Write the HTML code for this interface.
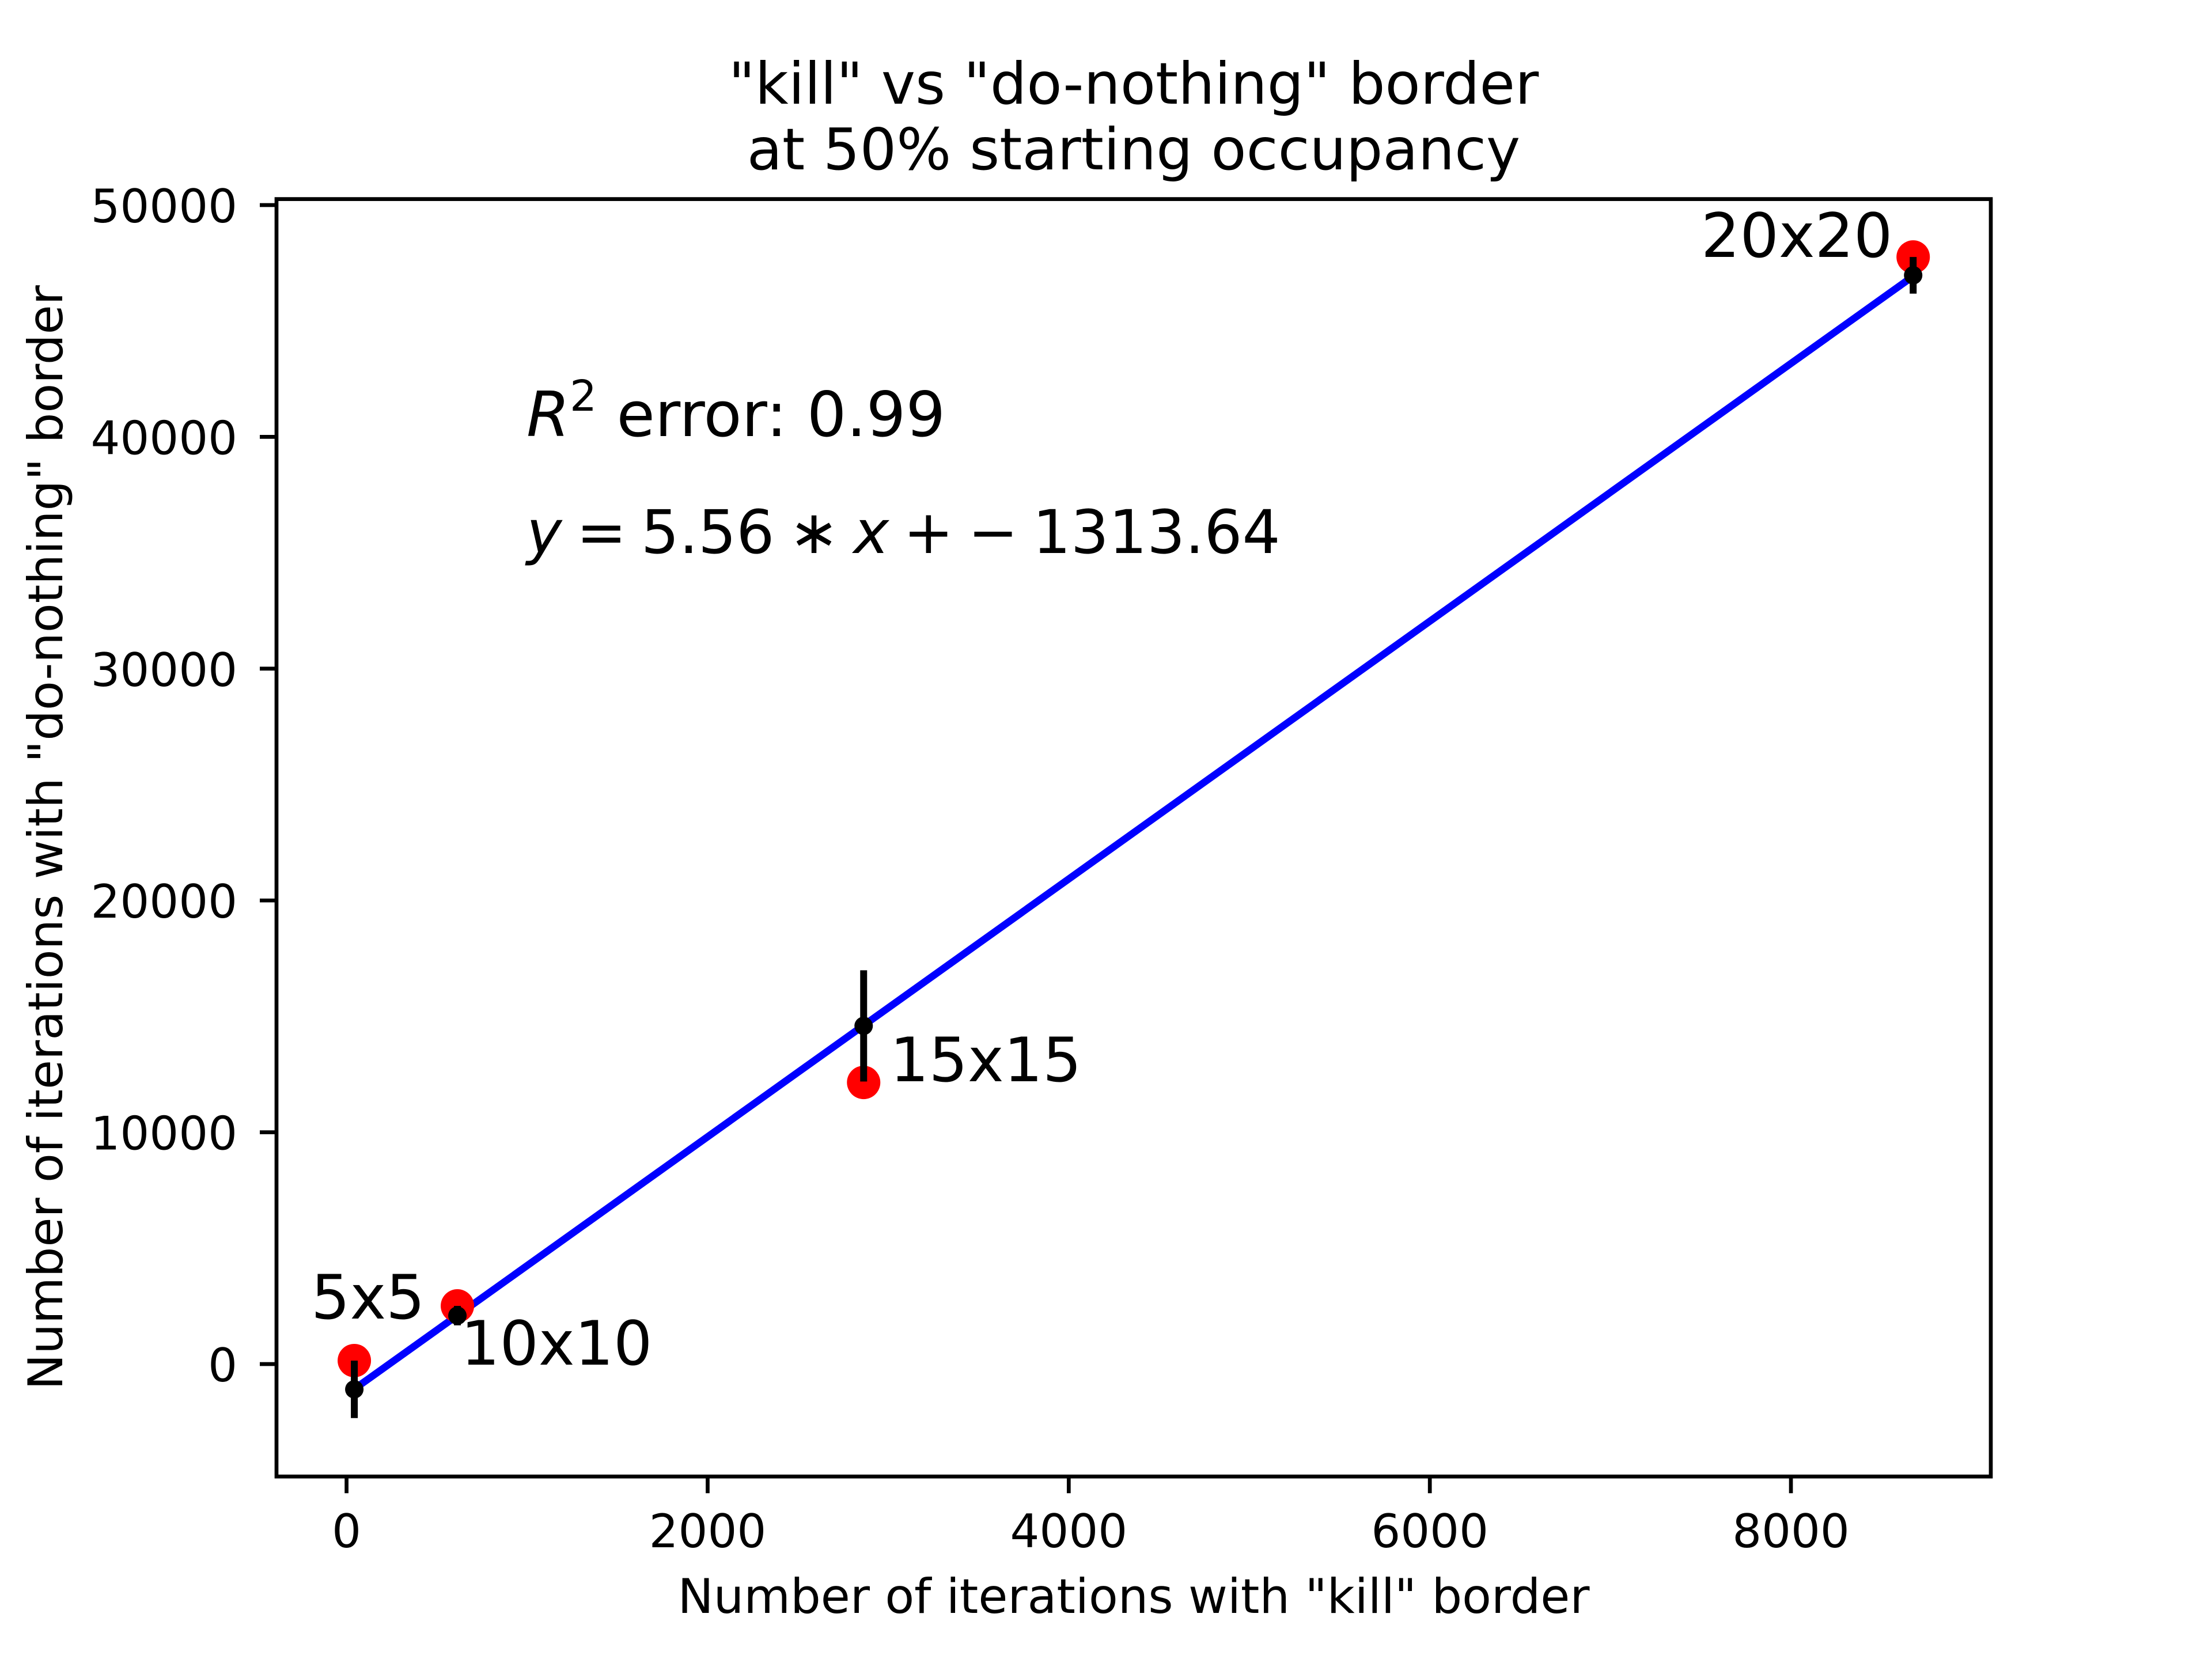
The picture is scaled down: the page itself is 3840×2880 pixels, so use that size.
<!DOCTYPE html>
<html><head><meta charset="utf-8"><style>
html,body{margin:0;padding:0;background:#fff}
svg{display:block;font-family:"DejaVu Sans","Liberation Sans",sans-serif}
</style></head><body>
<svg id="chart" width="3840" height="2880" viewBox="0 0 3840 2880" xmlns="http://www.w3.org/2000/svg">
<rect width="3840" height="2880" fill="#fff"/>
<g font-size="100" text-anchor="middle">
<text x="1968" y="180">"kill" vs "do-nothing" border</text>
<text x="1968" y="294">at 50% starting occupancy</text>
</g>
<g id="marks"></g>
<rect x="480" y="345.6" width="2976" height="2217.6" fill="none" stroke="#000" stroke-width="6.7"/>
<g id="ticks"></g>
<text x="1968" y="2800" font-size="83" text-anchor="middle">Number of iterations with "kill" border</text>
<text transform="translate(108,1454) rotate(-90)" font-size="83" text-anchor="middle">Number of iterations with "do-nothing" border</text>
<text x="914" y="757" font-size="108"><tspan font-style="italic">R</tspan><tspan font-size="74" dy="-44">2</tspan><tspan dy="44"> error: 0.99</tspan></text>
<text x="914" y="960" font-size="104" word-spacing="-8"><tspan font-style="italic">y</tspan> = 5.56 ∗ <tspan font-style="italic">x</tspan> + − 1313.64</text>
</svg>
<script>
const xTicks=[0,2000,4000,6000,8000];
const yTicks=[0,10000,20000,30000,40000,50000];
const labels=["5x5","10x10","15x15","20x20"];
const killIters=[43,614,2864,8677];
const doNothingSample=[150,2510,12150,47760];
const doNothingMean=[-1090,2090,14590,46970];
const doNothingErr=[1240,420,2400,790];
const slope=5.56, intercept=-1313.64;
const X0=480,X1=3456,Y0=2563.2,Y1=345.6, xMin=-388,xMax=9107,yMin=-4851,yMax=50258;
const sx=v=>X0+(v-xMin)/(xMax-xMin)*(X1-X0);
const sy=v=>Y0-(v-yMin)/(yMax-yMin)*(Y0-Y1);
const NS="http://www.w3.org/2000/svg";
function mk(t,a,p){const e=document.createElementNS(NS,t);for(const k in a)e.setAttribute(k,a[k]);p.appendChild(e);return e;}
const marks=document.getElementById('marks'), ticks=document.getElementById('ticks');
const fx0=killIters[0], fx1=killIters[killIters.length-1];
const fit=mk('line',{x1:sx(fx0),y1:sy(slope*fx0+intercept),x2:sx(fx1),y2:sy(slope*fx1+intercept),stroke:'#0000ff','stroke-width':12.5},marks);


killIters.forEach((x,i)=>{
  const c=mk('circle',{cx:sx(x),cy:sy(doNothingSample[i]),r:29,fill:'#ff0000'},marks);
  
  
});
killIters.forEach((x,i)=>{
  const l=mk('line',{x1:sx(x),x2:sx(x),y1:sy(doNothingMean[i]-doNothingErr[i]),y2:sy(doNothingMean[i]+doNothingErr[i]),stroke:'#000','stroke-width':12},marks);
  
  
  const d=mk('circle',{cx:sx(x),cy:sy(doNothingMean[i]),r:16,fill:'#000'},marks);
  
  
});
const ann=[[540,2289],[800,2369],[1545,1877],[2953,446]];
labels.forEach((s,i)=>{
  const dx=ann[i][0]-sx(killIters[i]), dy=ann[i][1]-sy(doNothingSample[i]);
  const t=mk('text',{x:sx(killIters[i])+dx,y:sy(doNothingSample[i])+dy,'font-size':106},marks);
  t.textContent=s;
  
  
});
xTicks.forEach(v=>{
  const l=mk('line',{x1:sx(v),x2:sx(v),y1:Y0,y2:Y0+29,stroke:'#000','stroke-width':6.7},ticks);
  
  
  const t=mk('text',{x:sx(v),y:2686,'font-size':80,'text-anchor':'middle'},ticks);
  t.textContent=v;
  
  
});
yTicks.forEach(v=>{
  const l=mk('line',{x1:X0-29,x2:X0,y1:sy(v),y2:sy(v),stroke:'#000','stroke-width':6.7},ticks);
  
  
  const t=mk('text',{x:412,y:sy(v)+30,'font-size':80,'text-anchor':'end'},ticks);
  t.textContent=v;
  
  
});
</script>
</body></html>
